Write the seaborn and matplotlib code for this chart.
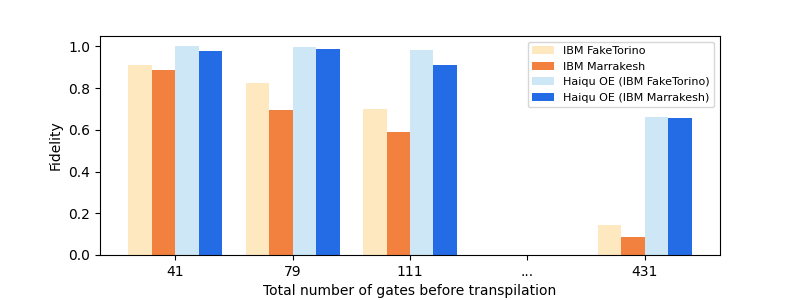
import pandas as pd
import matplotlib.pyplot as plt
import seaborn as sns

# dữ liệu
gates = ["41", "79", "111", "...", "431"]
fake_torino = [0.909, 0.827, 0.702, 0.0, 0.144]
marrakesh = [0.885, 0.697, 0.591, 0.0, 0.088]
haiqu_fake_torino = [1.0, 0.996, 0.984, 0.0, 0.663]
haiqu_marrakesh = [0.980, 0.989, 0.912, 0.0, 0.659]

series = ["IBM FakeTorino", "IBM Marrakesh", "Haiqu OE (IBM FakeTorino)", "Haiqu OE (IBM Marrakesh)"]
colors = ["#fee8c0", "#f28140", "#cde7f6", "#236ce5"]

rows = []
for name, vals in zip(series, [fake_torino, marrakesh, haiqu_fake_torino, haiqu_marrakesh]):
    for g, v in zip(gates, vals):
        rows.append({"gates": g, "Fidelity": v, "method": name})
df = pd.DataFrame(rows)

fig, ax = plt.subplots(figsize=(8, 3), dpi=100)
sns.barplot(
    data=df,
    x="gates",
    y="Fidelity",
    hue="method",
    order=gates,
    hue_order=series,
    palette=colors,
    saturation=1,
    width=0.8,
    ax=ax
)
ax.set_xlim(-0.64, 4.64)
ax.set_xlabel("Total number of gates before transpilation")
ax.set_ylabel("Fidelity")
ax.legend(fontsize=8, loc="upper right")
plt.subplots_adjust(left=0.125, right=0.9, top=0.88, bottom=0.15)
plt.savefig("out.png", dpi=100)
